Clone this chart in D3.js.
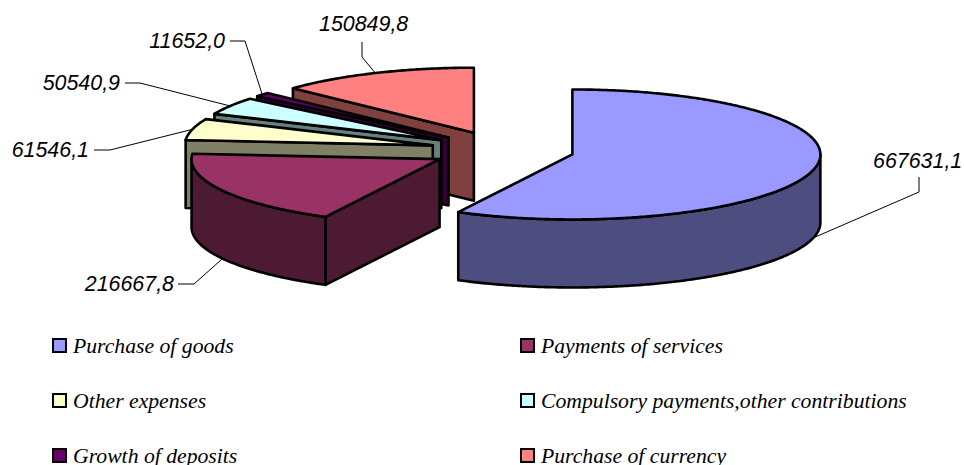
<!DOCTYPE html>
<html>
<head>
<meta charset="utf-8">
<script src="https://cdn.jsdelivr.net/npm/d3@7/dist/d3.min.js"></script>
<style>
html,body{margin:0;padding:0;background:#fff;overflow:hidden}
svg{display:block}
.val{font-family:"Liberation Sans",Arial,sans-serif;font-style:italic;font-size:21.4px;fill:#000}
.leg{font-family:"Liberation Serif","Times New Roman",serif;font-style:italic;font-size:21.7px;fill:#000}
</style>
</head>
<body>
<svg id="c" width="964" height="465"></svg>
<script>
const categories = ["Purchase of goods","Payments of services","Other expenses","Compulsory payments,other contributions","Growth of deposits","Purchase of currency"];
const values = [667631.1,216667.8,61546.1,50540.9,11652.0,150849.8];
const valueLabels = ["667631,1","216667,8","61546,1","50540,9","11652,0","150849,8"];
const topColors = ["#9999FF","#993366","#FFFFCC","#CCFFFF","#660066","#FF8080"];
const wallColors = ["#4D4D80","#4D1A33","#808066","#668080","#330033","#804040"];

// layout
const W = 964, H = 465;
const base = {x:502.5, y:150}, rx = 248, ry = 65, depth = 68, explode = 0.29;
const labelAnchor = [[873,168],[174,291],[89,157],[120,90],[225,48],[319,31]];
const labelEnd = [false,true,true,true,true,false];
const elbows = [
  [[919,177],[919,192]],
  [[178,284],[194,284]],
  [[94,150],[110,150]],
  [[125,83],[140,83]],
  [[230,41],[245,41]],
  [[362,42],[362,57]]
];
const legendCols = [53,521], legendRows = [339,394,449], swatch = 13;

const svg = d3.select("#c");
const pie = d3.pie().sort(null).value(d=>d).startAngle(0).endAngle(2*Math.PI);
const arcs = pie(values);
const ang = d3.scaleLinear().domain([0,1]);
const line = d3.line();

function center(a){
  const mid = (a.startAngle+a.endAngle)/2;
  return {x: base.x + explode*rx*Math.sin(mid), y: base.y - explode*ry*Math.cos(mid)};
}
function pt(c,t,dz){ return [c.x + rx*Math.sin(t), c.y - ry*Math.cos(t) + (dz||0)]; }
function samples(t0,t1){
  const n = Math.max(2,Math.ceil(Math.abs(t1-t0)/0.01));
  ang.range([t0,t1]);
  return d3.range(n+1).map(i=>ang(i/n));
}

// back to front painter's order
const order = [5,4,3,2,1,0];
const g = svg.append("g").attr("stroke","#000").attr("stroke-width",2.6).attr("stroke-linejoin","round");
order.forEach(i=>{
  const a = arcs[i], c = center(a);
  if (Math.sin(a.startAngle) < 0) {
    const r = pt(c,a.startAngle);
    g.append("path").attr("fill",wallColors[i])
      .attr("d",line([[c.x,c.y],r,[r[0],r[1]+depth],[c.x,c.y+depth]])+"Z");
  }
  const t0 = Math.max(a.startAngle,Math.PI/2), t1 = Math.min(a.endAngle,3*Math.PI/2);
  if (t1>t0) {
    const ts = samples(t0,t1);
    const up = ts.map(t=>pt(c,t)), dn = ts.slice().reverse().map(t=>pt(c,t,depth));
    g.append("path").attr("fill",wallColors[i]).attr("d",line(up.concat(dn))+"Z");
  }
  const ts = samples(a.startAngle,a.endAngle);
  g.append("path").attr("fill",topColors[i])
    .attr("d",line([[c.x,c.y]].concat(ts.map(t=>pt(c,t))))+"Z");
});

// leaders + labels
const lg = svg.append("g");
arcs.forEach((a,i)=>{
  const c = center(a), mid=(a.startAngle+a.endAngle)/2;
  const front = Math.cos(mid) < 0;
  const e = pt(c,mid,front?depth:0);
  lg.append("path").attr("fill","none").attr("stroke","#000").attr("stroke-width",1)
    .attr("d",line(elbows[i].concat([e])));
  lg.append("text").attr("class","val")
    .attr("x",labelAnchor[i][0]).attr("y",labelAnchor[i][1])
    .attr("text-anchor",labelEnd[i]?"end":"start").text(valueLabels[i]);
});

// legend
const leg = svg.append("g");
categories.forEach((name,i)=>{
  const x = legendCols[i%2], y = legendRows[Math.floor(i/2)];
  leg.append("rect").attr("x",x).attr("y",y).attr("width",swatch).attr("height",swatch)
    .attr("fill",topColors[i]).attr("stroke","#000").attr("stroke-width",2);
  leg.append("text").attr("class","leg").attr("x",x+20).attr("y",y+14).text(name);
});
</script>
</body>
</html>
